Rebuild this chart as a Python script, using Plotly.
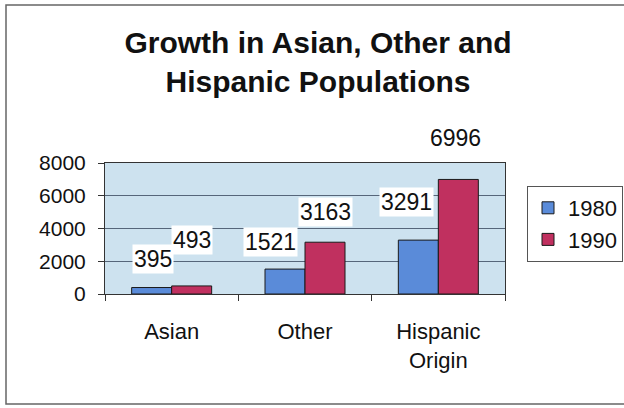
import plotly.graph_objects as go

# Population figures (thousands) by group and census year
categories = ["Asian", "Other", "Hispanic<br>Origin"]
years = ["1980", "1990"]
values_1980 = [395, 1521, 3291]
values_1990 = [493, 3163, 6996]
y_ticks = [0, 2000, 4000, 6000, 8000]

colors = {"1980": "#5a8bd9", "1990": "#c0305f"}
font_family = "Arial, Liberation Sans, sans-serif"

# Pixel nudges for the value labels (x, y) so they sit like the original layout
label_shift_1980 = [(1, 29), (-15, 27), (-12, 38)]
label_shift_1990 = [(0, 46), (0, 30), (-3, 41)]

W, H = 624, 408
L, R, T, B = 105, 119, 163, 114
PW, PH = W - L - R, H - T - B

fig = go.Figure()
for year, vals in zip(years, [values_1980, values_1990]):
    fig.add_trace(go.Bar(
        name=year, x=categories, y=vals,
        marker=dict(color=colors[year], line=dict(color="#1a1a1a", width=1)),
    ))

annotations = []
for offset_idx, (vals, shifts) in enumerate([(values_1980, label_shift_1980), (values_1990, label_shift_1990)]):
    for i, (cat, v) in enumerate(zip(categories, vals)):
        dx, dy = shifts[i]
        base = -20 if offset_idx == 0 else 20
        annotations.append(dict(
            x=cat, y=v, xref="x", yref="y", text=str(v), showarrow=False,
            xshift=base + dx, yshift=dy, yanchor="middle",
            bgcolor="white", borderpad=1,
            font=dict(family=font_family, size=23, color="#111111"),
        ))

fig.update_layout(
    width=W, height=H,
    margin=dict(l=L, r=R, t=T, b=B, autoexpand=False),
    paper_bgcolor="white",
    plot_bgcolor="#cde2ef",
    barmode="group", bargap=0.4, bargroupgap=0,
    title=dict(
        text="<b>Growth in Asian, Other and<br>Hispanic Populations</b>",
        x=318 / W, xref="container", xanchor="center",
        y=1 - 53 / H, yref="container", yanchor="middle",
        font=dict(family=font_family, size=30, color="#111111"),
    ),
    legend=dict(
        x=(527 - L) / PW, xanchor="left",
        y=(H - B - 186) / PH, yanchor="top",
        bgcolor="white", bordercolor="#555555", borderwidth=1,
        font=dict(family=font_family, size=22, color="#111111"),
        itemwidth=30, tracegroupgap=5,
    ),
    annotations=annotations,
    shapes=[
        # outer chart frame
        dict(type="rect", xref="paper", yref="paper",
             x0=(6 - L) / PW, x1=(640 - L) / PW,
             y0=-(404 - (H - B)) / PH, y1=((H - B) - 5) / PH,
             line=dict(color="#666666", width=1.5), layer="below"),
    ],
    showlegend=True,
)

fig.update_xaxes(
    showgrid=False, showline=True, linecolor="#333333", linewidth=1, mirror=True,
    ticks="outside", tickson="boundaries", ticklen=6, tickcolor="#333333",
    tickfont=dict(family=font_family, size=22, color="#111111"),
    ticklabelstandoff=18,
)
fig.update_yaxes(
    range=[0, 8000], tickvals=y_ticks, ticktext=[str(t) for t in y_ticks],
    showgrid=True, gridcolor="#56667a", gridwidth=1,
    showline=True, linecolor="#333333", linewidth=1, mirror=True,
    ticks="outside", ticklen=6, tickcolor="#333333",
    tickfont=dict(family=font_family, size=21, color="#111111"),
    ticklabelstandoff=8,
    zeroline=False,
)

fig.write_html("out.html")
